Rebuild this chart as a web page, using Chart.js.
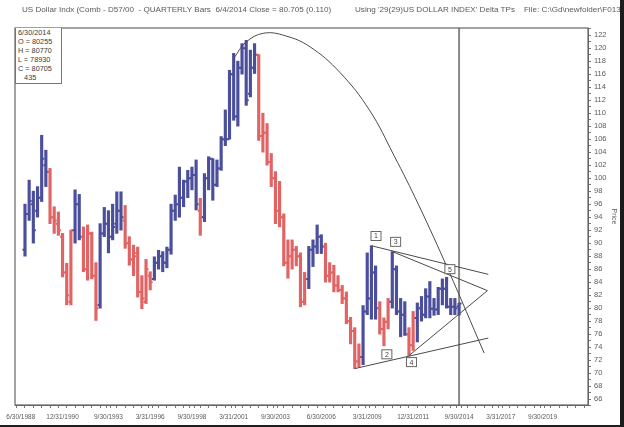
<!DOCTYPE html>
<html>
<head>
<meta charset="utf-8">
<script src="https://cdn.jsdelivr.net/npm/chart.js@4.4.0/dist/chart.umd.min.js"></script>
<style>
  body { margin: 0; background: #fff; }
  #wrap { position: relative; width: 624px; height: 427px; overflow: hidden; background: #fff; }
  canvas { position: absolute; left: 0; top: 0; }
  .hdr { position: absolute; top: 5px; font: 8.1px "Liberation Sans", Arial, sans-serif; color: #5a5a5a; white-space: pre; }
  #info { position: absolute; left: 15px; top: 28px; width: 43px; height: 55px; border: 1px solid #777; border-top: none;
          font: 7.3px "Liberation Sans", Arial, sans-serif; color: #3a3a3a; line-height: 9px; padding-left: 2px; background: #fff; }
  #edgeR { position: absolute; right: 0; top: 0; width: 4px; height: 427px; background: #1c1c1c; }
  #edgeB { position: absolute; left: 0; bottom: 0; width: 624px; height: 2px; background: #1c1c1c; }
</style>
</head>
<body>
<div id="wrap">
  <canvas id="chart" width="624" height="427"></canvas>
  <div class="hdr" style="left:22px">US Dollar Indx (Comb - D57/00  - QUARTERLY Bars  6/4/2014 Close = 80.705 (0.110)</div>
  <div class="hdr" style="left:355px">Using '29(29)US DOLLAR INDEX' Delta TPs    File: C:\Gd\newfolder\F013.l</div>
  <div id="info">6/30/2014<br>O = 80255<br>H = 80770<br>L = 78930<br>C = 80705<br>&nbsp;&nbsp;&nbsp;435</div>
  <div id="edgeR"></div>
  <div id="edgeB"></div>
</div>
<script>
// quarterly bars, first bar sits one quarter after the 6/30/1988 label
const firstBar = 1;
const opens = [89.0, 94.5, 96.0, 95.0, 97.0, 102.0, 101.0, 94.0, 93.0, 91.0, 85.5, 81.0, 92.0, 96.0, 91.0, 86.0, 91.5, 85.0, 80.5, 91.5,
  93.0, 91.0, 93.0, 95.0, 93.5, 90.0, 87.5, 88.5, 82.5, 81.0, 85.0, 84.5, 87.0, 88.0, 87.0, 89.0, 95.0, 96.0, 97.0, 99.5,
  100.0, 100.5, 95.0, 94.0, 100.0, 103.0, 99.0, 101.5, 106.0, 106.0, 116.0, 109.5, 117.0, 120.0, 113.0, 117.0, 119.0, 106.5, 107.0, 102.5,
  100.0, 95.0, 94.0, 87.0, 88.0, 89.0, 88.0, 81.0, 84.5, 89.0, 89.5, 91.0, 89.5, 85.0, 85.5, 83.5, 82.8, 81.5, 78.0, 76.5,
  71.8, 72.5, 79.5, 81.5, 85.5, 80.0, 76.8, 77.9, 81.0, 86.0, 79.5, 79.0, 76.0, 74.3, 78.5, 80.0, 79.0, 81.8, 79.9, 79.8,
  83.0, 83.0, 80.2, 80.2, 80.26];
const highs = [96.0, 99.7, 98.0, 98.7, 106.6, 104.3, 101.5, 95.6, 94.8, 91.5, 86.9, 92.0, 98.2, 97.5, 92.5, 92.8, 91.7, 87.0, 93.0, 95.5,
  95.0, 96.0, 97.9, 97.9, 95.8, 91.0, 89.7, 89.4, 85.0, 87.5, 85.6, 87.9, 88.9, 88.7, 89.4, 96.0, 97.4, 101.7, 99.7, 101.2,
  101.7, 102.8, 96.9, 100.7, 103.3, 103.0, 102.8, 106.4, 110.5, 116.6, 119.2, 118.0, 120.7, 121.2, 119.7, 120.7, 119.0, 110.0, 108.4, 103.8,
  101.0, 99.5, 94.5, 90.5, 90.5, 89.5, 88.5, 85.5, 89.5, 90.5, 92.8, 91.3, 90.0, 87.0, 86.6, 85.0, 83.5, 82.5, 78.6, 77.0,
  74.5, 80.4, 88.5, 89.6, 86.5, 81.0, 78.5, 81.5, 88.7, 86.5, 81.5, 81.0, 77.0, 79.5, 80.8, 81.8, 83.0, 84.1, 81.5, 83.2,
  84.5, 84.75, 81.5, 81.5, 80.77];
const lows = [88.0, 93.5, 90.0, 94.0, 96.4, 98.7, 93.0, 91.5, 91.2, 84.8, 80.5, 80.5, 90.0, 90.5, 85.6, 84.3, 84.5, 78.1, 80.0, 91.0,
  88.5, 90.5, 91.5, 92.0, 89.2, 86.6, 85.0, 81.7, 79.9, 80.7, 82.8, 84.3, 86.0, 85.6, 86.2, 88.3, 93.5, 94.0, 95.6, 97.0,
  98.2, 95.1, 91.2, 93.3, 98.2, 96.6, 98.7, 101.2, 105.0, 106.0, 108.9, 108.0, 116.0, 111.2, 112.5, 116.1, 105.8, 104.0, 102.0, 98.7,
  93.0, 92.5, 86.5, 84.6, 86.0, 86.5, 80.2, 80.5, 83.0, 86.4, 88.4, 88.4, 84.0, 84.0, 82.5, 82.5, 80.7, 77.6, 74.5, 70.7,
  71.0, 71.3, 79.0, 78.3, 78.3, 76.0, 74.2, 76.8, 80.0, 79.0, 75.6, 75.8, 72.7, 73.5, 74.8, 78.0, 78.5, 78.5, 78.9, 79.0,
  80.5, 80.0, 79.0, 79.0, 78.93];
const closes = [94.5, 96.5, 92.0, 97.0, 103.0, 101.0, 94.0, 93.5, 92.0, 85.5, 82.0, 92.0, 96.0, 91.0, 86.0, 91.5, 85.0, 80.0, 91.5, 93.0,
  91.0, 92.5, 95.0, 94.0, 90.0, 87.5, 88.0, 82.5, 81.5, 86.0, 84.0, 87.0, 88.0, 87.0, 89.0, 95.0, 96.0, 97.0, 99.5, 100.0,
  100.5, 96.0, 94.0, 100.0, 103.0, 99.0, 101.5, 106.0, 106.0, 116.0, 109.5, 117.0, 120.0, 112.0, 117.0, 119.0, 106.5, 107.0, 102.5, 100.0,
  95.0, 94.0, 87.0, 88.0, 89.0, 88.0, 81.0, 84.5, 89.0, 89.5, 91.0, 89.5, 85.0, 85.5, 83.5, 82.8, 81.5, 78.0, 76.5, 71.8,
  72.5, 79.5, 81.5, 85.5, 80.0, 76.8, 77.9, 81.0, 86.0, 79.5, 79.0, 76.0, 74.3, 78.5, 80.0, 79.0, 81.8, 79.9, 79.8, 83.0,
  83.0, 80.2, 80.2, 80.0, 80.71];
// TP trend of each bar: u = up (blue), d = down (red)
const trend = ('uuuuuu' + 'dddddd' + 'uu' + 'dddd' + 'uuuuuu' + 'ddddddd' + 'uuuuuuuuuuu' + 'd' + 'uuuuuuuuuuuuu' +
  'dddddddddddd' + 'uuuu' + 'ddddddddd' + 'uuuu' + 'ddd' + 'uuuu' + 'dd' + 'uuuuuuuuuuu').split('');

const dateLabels = ['6/30/1988', '12/31/1990', '9/30/1993', '3/31/1996', '9/30/1998', '3/31/2001', '9/30/2003',
  '6/30/2006', '3/31/2009', '12/31/2011', '9/30/2014', '3/31/2017', '9/30/2019'];
const dateQuarters = [0, 10, 21, 31, 41, 51, 61, 72, 83, 94, 105, 115, 125];
const priceTicks = [66, 68, 70, 72, 74, 76, 78, 80, 82, 84, 86, 88, 90, 92, 94, 96, 98, 100, 102, 104, 106, 108, 110,
  112, 114, 116, 118, 120, 122];

// hand drawn study lines (quarter, price)
const arcQ = [51.1, 53.9, 58.2, 63.4, 69.3, 76.4, 83.5, 89.4, 95.3, 102.4, 111.0];
const arcP = [118.5, 120.9, 122.3, 121.9, 120.2, 116.3, 110.5, 103.5, 95.9, 85.9, 73.1];
const topLineQ = [84, 112], topLineP = [89.6, 85.2];
const midLineQ = [89, 111.8], midLineP = [88.7, 82.7];
const riseLineQ = [93, 111.8], riseLineP = [72.7, 82.7];
const baseLineQ = [80, 112], baseLineP = [70.7, 75.4];
const markerText = ['1', '2', '3', '4', '5'];
const markerQ = [85.1, 87.7, 89.8, 93.6, 102.8];
const markerP = [91.1, 72.9, 90.2, 71.7, 86.0];
const nowQuarter = 105;

const BLUE = '#4b4f9b', RED = '#e06464', INK = '#5a5a5a';
const bars = highs.map((h, i) => ({ x: i + firstBar, y: [lows[i], h] }));
const barColors = trend.map(t => t === 'u' ? BLUE : RED);
const pts = (qs, ps) => qs.map((q, i) => ({ x: q, y: ps[i] }));
const studyLine = (data, tension) => ({ type: 'line', data, borderColor: '#4a4a4a', borderWidth: 1, pointRadius: 0, tension: tension || 0, order: 1 });

const ohlcTicks = {
  id: 'ohlcTicks',
  afterDatasetDraw(chart, args) {
    if (args.index !== 0) return;
    const { ctx, scales: { x, y } } = chart;
    ctx.save();
    ctx.lineWidth = 2;
    opens.forEach((o, i) => {
      const px = x.getPixelForValue(i + firstBar);
      ctx.strokeStyle = barColors[i];
      ctx.beginPath();
      ctx.moveTo(px - 2.5, y.getPixelForValue(o)); ctx.lineTo(px, y.getPixelForValue(o));
      ctx.moveTo(px, y.getPixelForValue(closes[i])); ctx.lineTo(px + 2.5, y.getPixelForValue(closes[i]));
      ctx.stroke();
    });
    ctx.restore();
  }
};

const frame = {
  id: 'frame',
  beforeDatasetsDraw(chart) {
    const { ctx, chartArea: a, scales: { x } } = chart;
    ctx.save();
    ctx.strokeStyle = '#8a8a8a';
    ctx.lineWidth = 2;
    const nx = x.getPixelForValue(nowQuarter);
    ctx.beginPath(); ctx.moveTo(nx, a.top); ctx.lineTo(nx, a.bottom); ctx.stroke();
    ctx.restore();
  },
  afterDraw(chart) {
    const { ctx, chartArea: a } = chart;
    ctx.save();
    ctx.strokeStyle = '#666';
    ctx.lineWidth = 1.2;
    ctx.strokeRect(a.left, a.top, a.right - a.left, a.bottom - a.top);
    ctx.restore();
  }
};

const markers = {
  id: 'markers',
  afterDatasetsDraw(chart) {
    const { ctx, scales: { x, y } } = chart;
    ctx.save();
    ctx.font = '7px "Liberation Sans", Arial, sans-serif';
    ctx.textAlign = 'center'; ctx.textBaseline = 'middle';
    markerText.forEach((t, i) => {
      const px = x.getPixelForValue(markerQ[i]), py = y.getPixelForValue(markerP[i]);
      ctx.fillStyle = '#fff';
      ctx.fillRect(px - 5, py - 4.5, 10, 9);
      ctx.strokeStyle = '#666'; ctx.lineWidth = 1;
      ctx.strokeRect(px - 5, py - 4.5, 10, 9);
      ctx.fillStyle = '#444';
      ctx.fillText(t, px, py + 0.5);
    });
    ctx.restore();
  }
};

const xTickSet = new Set(dateQuarters);
for (let q = 0; q <= 134; q += 2) xTickSet.add(q);
const xTicks = [...xTickSet].sort((a, b) => a - b);
const yTicks = [];
for (let p = 65; p <= 123; p++) yTicks.push(p);

new Chart(document.getElementById('chart').getContext('2d'), {
  data: {
    datasets: [
      { type: 'bar', data: bars, backgroundColor: barColors, barThickness: 2.5, grouped: false, order: 2 },
      studyLine(pts(arcQ, arcP), 0.4),
      studyLine(pts(topLineQ, topLineP)),
      studyLine(pts(midLineQ, midLineP)),
      studyLine(pts(riseLineQ, riseLineP)),
      studyLine(pts(baseLineQ, baseLineP))
    ]
  },
  options: {
    responsive: false,
    animation: false,
    layout: { padding: { left: 15, top: 28, right: 6, bottom: 4 } },
    plugins: { legend: { display: false }, tooltip: { enabled: false } },
    scales: {
      x: {
        type: 'linear', min: -0.5, max: 135,
        afterBuildTicks: s => { s.ticks = xTicks.map(v => ({ value: v })); },
        afterFit: s => { s.height = 18; },
        grid: { drawOnChartArea: false, tickLength: 3, color: '#777' },
        border: { color: '#666' },
        ticks: {
          autoSkip: false, maxRotation: 0, padding: 5, color: INK,
          font: { family: '"Liberation Sans", Arial, sans-serif', size: 6.5 },
          callback: v => { const i = dateQuarters.indexOf(v); return i >= 0 ? dateLabels[i] : ''; }
        }
      },
      y: {
        type: 'linear', position: 'right', min: 65.1, max: 123.1,
        afterBuildTicks: s => { s.ticks = yTicks.map(v => ({ value: v })); },
        afterFit: s => { s.width = 30; },
        grid: { drawOnChartArea: false, tickLength: 3, color: '#777' },
        border: { color: '#666' },
        title: { display: true, text: 'Price', color: INK, padding: 0, font: { family: '"Liberation Sans", Arial, sans-serif', size: 7 } },
        ticks: {
          autoSkip: false, padding: 3, color: INK,
          font: { family: '"Liberation Sans", Arial, sans-serif', size: 7.5 },
          callback: v => priceTicks.includes(v) ? String(v) : ''
        }
      }
    }
  },
  plugins: [ohlcTicks, frame, markers]
});
</script>
</body>
</html>
